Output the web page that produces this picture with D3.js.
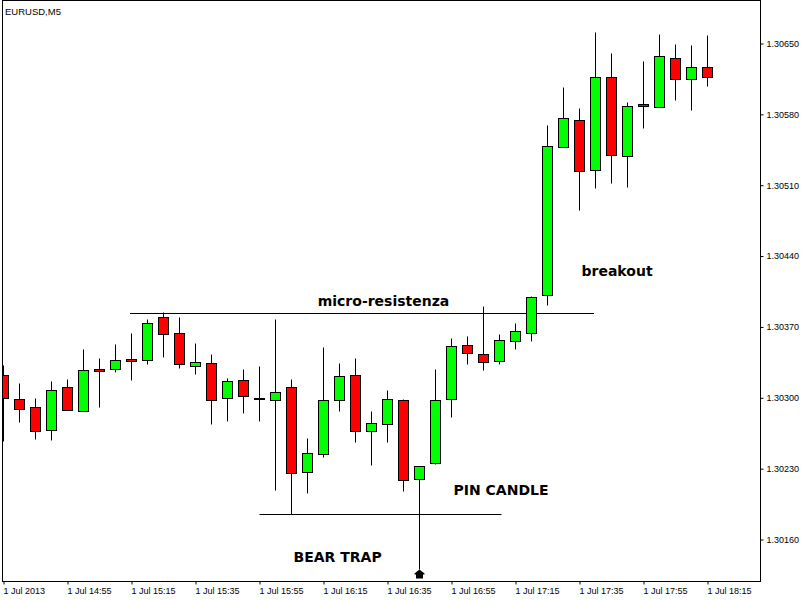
<!DOCTYPE html>
<html><head><meta charset="utf-8">
<script src="https://cdn.jsdelivr.net/npm/d3@7/dist/d3.min.js"></script>
<style>
html,body{margin:0;padding:0;background:#fff;}
svg{display:block;}
</style></head>
<body>
<script>
const times = ["14:35","14:40","14:45","14:50","14:55","15:00","15:05","15:10","15:15","15:20",
"15:25","15:30","15:35","15:40","15:45","15:50","15:55","16:00","16:05","16:10",
"16:15","16:20","16:25","16:30","16:35","16:40","16:45","16:50","16:55","17:00",
"17:05","17:10","17:15","17:20","17:25","17:30","17:35","17:40","17:45","17:50",
"17:55","18:00","18:05","18:10","18:15"];
const open  = [1.30322,1.30298,1.30290,1.30268,1.30310,1.30286,1.30328,1.30328,1.30338,1.30337,
1.30379,1.30364,1.30331,1.30334,1.30299,1.30317,1.30299,1.30297,1.30310,1.30226,
1.30244,1.30297,1.30322,1.30267,1.30274,1.30297,1.30219,1.30235,1.30298,1.30352,
1.30343,1.30336,1.30356,1.30364,1.30401,1.30547,1.30574,1.30525,1.30616,1.30538,
1.30590,1.30587,1.30635,1.30614,1.30626];
const high  = [1.30332,1.30314,1.30299,1.30316,1.30318,1.30348,1.30339,1.30353,1.30364,1.30377,
1.30384,1.30379,1.30354,1.30343,1.30319,1.30328,1.30331,1.30377,1.30318,1.30260,
1.30350,1.30334,1.30339,1.30286,1.30307,1.30298,1.30232,1.30328,1.30359,1.30361,
1.30390,1.30363,1.30373,1.30400,1.30569,1.30607,1.30586,1.30661,1.30640,1.30592,
1.30632,1.30659,1.30649,1.30648,1.30658];
const low   = [1.30257,1.30276,1.30259,1.30258,1.30287,1.30286,1.30290,1.30325,1.30317,1.30333,
1.30340,1.30329,1.30323,1.30274,1.30277,1.30284,1.30277,1.30208,1.30185,1.30205,
1.30241,1.30286,1.30256,1.30233,1.30256,1.30207,1.30130,1.30234,1.30281,1.30333,
1.30327,1.30333,1.30348,1.30356,1.30391,1.30547,1.30485,1.30507,1.30512,1.30508,
1.30566,1.30587,1.30594,1.30584,1.30608];
const close = [1.30299,1.30288,1.30267,1.30307,1.30287,1.30327,1.30326,1.30337,1.30336,1.30373,
1.30363,1.30333,1.30335,1.30297,1.30316,1.30301,1.30299,1.30305,1.30225,1.30245,
1.30297,1.30321,1.30267,1.30275,1.30298,1.30218,1.30232,1.30297,1.30351,1.30344,
1.30335,1.30357,1.30365,1.30399,1.30548,1.30576,1.30524,1.30616,1.30539,1.30588,
1.30588,1.30637,1.30614,1.30626,1.30616];

const priceTicks = [1.30160,1.30230,1.30300,1.30370,1.30440,1.30510,1.30580,1.30650];
const timeTickLabels = ["1 Jul 2013","1 Jul 14:55","1 Jul 15:15","1 Jul 15:35","1 Jul 15:55",
"1 Jul 16:15","1 Jul 16:35","1 Jul 16:55","1 Jul 17:15","1 Jul 17:35","1 Jul 17:55","1 Jul 18:15"];
const title = "EURUSD,M5";

const resistance = {from:"15:15", to:"17:40", price:1.30383};
const support = {from:"15:55", to:"17:10", price:1.30185};
const noteTexts = ["micro-resistenza","breakout","PIN CANDLE","BEAR TRAP"];
const noteTimes = ["16:35","17:35","16:55","16:05"];
const notePrices = [1.30391,1.30420,1.30204,1.30138];
const pinTime = "16:45";

const W = 802, H = 600;
const svg = d3.select("body").append("svg").attr("width",W).attr("height",H)
  .style("font-family","'Liberation Sans', Arial, sans-serif");

const x = d3.scalePoint().domain(times).range([3.5, 707.5]);
const y = d3.scaleLinear().domain([1.30160, 1.30650]).range([539.5, 43.5]);
const px = v => Math.round(v - 0.5) + 0.5;

svg.append("rect").attr("width",W).attr("height",H).attr("fill","#fff");

svg.append("defs").append("clipPath").attr("id","plot")
  .append("rect").attr("x",3).attr("y",1).attr("width",757).attr("height",580);

const data = times.map((t,i)=>({t, o:open[i], h:high[i], l:low[i], c:close[i]}));

const g = svg.append("g").attr("clip-path","url(#plot)");

// resistance / support lines
g.append("line").attr("x1",x(resistance.from)-1.5).attr("x2",x(resistance.to)-1.5)
  .attr("y1",px(y(resistance.price))).attr("y2",px(y(resistance.price)))
  .attr("stroke","#000").attr("stroke-width",1);
g.append("line").attr("x1",x(support.from)).attr("x2",x(support.to)+2)
  .attr("y1",px(y(support.price))).attr("y2",px(y(support.price)))
  .attr("stroke","#000").attr("stroke-width",1);

const cg = g.selectAll("g.c").data(data).join("g").attr("class","c");
cg.append("line")
  .attr("x1",d=>x(d.t)).attr("x2",d=>x(d.t))
  .attr("y1",d=>px(y(d.h))).attr("y2",d=>px(y(d.l)))
  .attr("stroke","#000").attr("stroke-width",1);
cg.append("rect")
  .attr("x",d=>x(d.t)-5).attr("width",10)
  .attr("y",d=>px(y(Math.max(d.o,d.c))))
  .attr("height",d=>Math.max(1, px(y(Math.min(d.o,d.c))) - px(y(Math.max(d.o,d.c)))))
  .attr("fill",d=>d.c>d.o ? "#00ff00" : (d.c<d.o ? "#ff0000" : "#000"))
  .attr("stroke","#000").attr("stroke-width",1);

// arrow marker under pin candle
const ax = x(pinTime), ay = px(y(low[times.indexOf(pinTime)]));
svg.append("path")
  .attr("d",`M${ax},${ay} L${ax+5},${ay+4} L${ax+5},${ay+5} L${ax+3.5},${ay+5} L${ax+3.5},${ay+9} L${ax-3.5},${ay+9} L${ax-3.5},${ay+5} L${ax-5},${ay+5} L${ax-5},${ay+4} Z`)
  .attr("fill","#000");

// annotations
const notes = noteTexts.map((text,i)=>({text, t:noteTimes[i], price:notePrices[i]}));
svg.selectAll("text.note").data(notes).join("text").attr("class","note")
  .attr("x",(d,i)=> i===0 ? x(d.t)-4 : x(d.t)+2)
  .attr("text-anchor",(d,i)=> i===0 ? "middle" : "start")
  .attr("y",d=>y(d.price))
  .attr("font-family","'DejaVu Sans', sans-serif")
  .attr("font-size","14px").attr("font-weight","bold").attr("fill","#000").text(d=>d.text);

// frame
svg.append("line").attr("x1",2.5).attr("x2",2.5).attr("y1",0).attr("y2",582).attr("stroke","#000");
svg.append("line").attr("x1",2).attr("x2",761).attr("y1",0.5).attr("y2",0.5).attr("stroke","#000");
svg.append("line").attr("x1",760.5).attr("x2",760.5).attr("y1",0).attr("y2",582).attr("stroke","#000");
svg.append("line").attr("x1",2).attr("x2",761).attr("y1",581.5).attr("y2",581.5).attr("stroke","#000");

// title
svg.append("text").attr("x",5).attr("y",15).attr("font-size","9.5px").attr("fill","#000").text(title);

// right axis
const yAxis = d3.axisRight(y).tickValues(priceTicks).tickFormat(d3.format(".5f")).tickSize(3).tickPadding(3);
const ya = svg.append("g").attr("transform","translate(760.5,0)").call(yAxis);
ya.select(".domain").remove();
ya.selectAll(".tick line").attr("stroke","#000");
ya.selectAll(".tick text").attr("font-size","9px").attr("font-family","'Liberation Sans', Arial, sans-serif").attr("fill","#000");

// bottom axis
const tickTimes = times.filter((t,i)=>i%4===0);
const xAxis = d3.axisBottom(x).tickValues(tickTimes)
  .tickFormat((d,i)=>timeTickLabels[i]).tickSize(3).tickPadding(3);
const xa = svg.append("g").attr("transform","translate(0,581.5)").call(xAxis);
xa.select(".domain").remove();
xa.selectAll(".tick line").attr("stroke","#000");
xa.selectAll(".tick text").attr("text-anchor","start").attr("dx","-0.5")
  .attr("font-size","9px").attr("font-family","'Liberation Sans', Arial, sans-serif").attr("fill","#000");
</script>
</body></html>
